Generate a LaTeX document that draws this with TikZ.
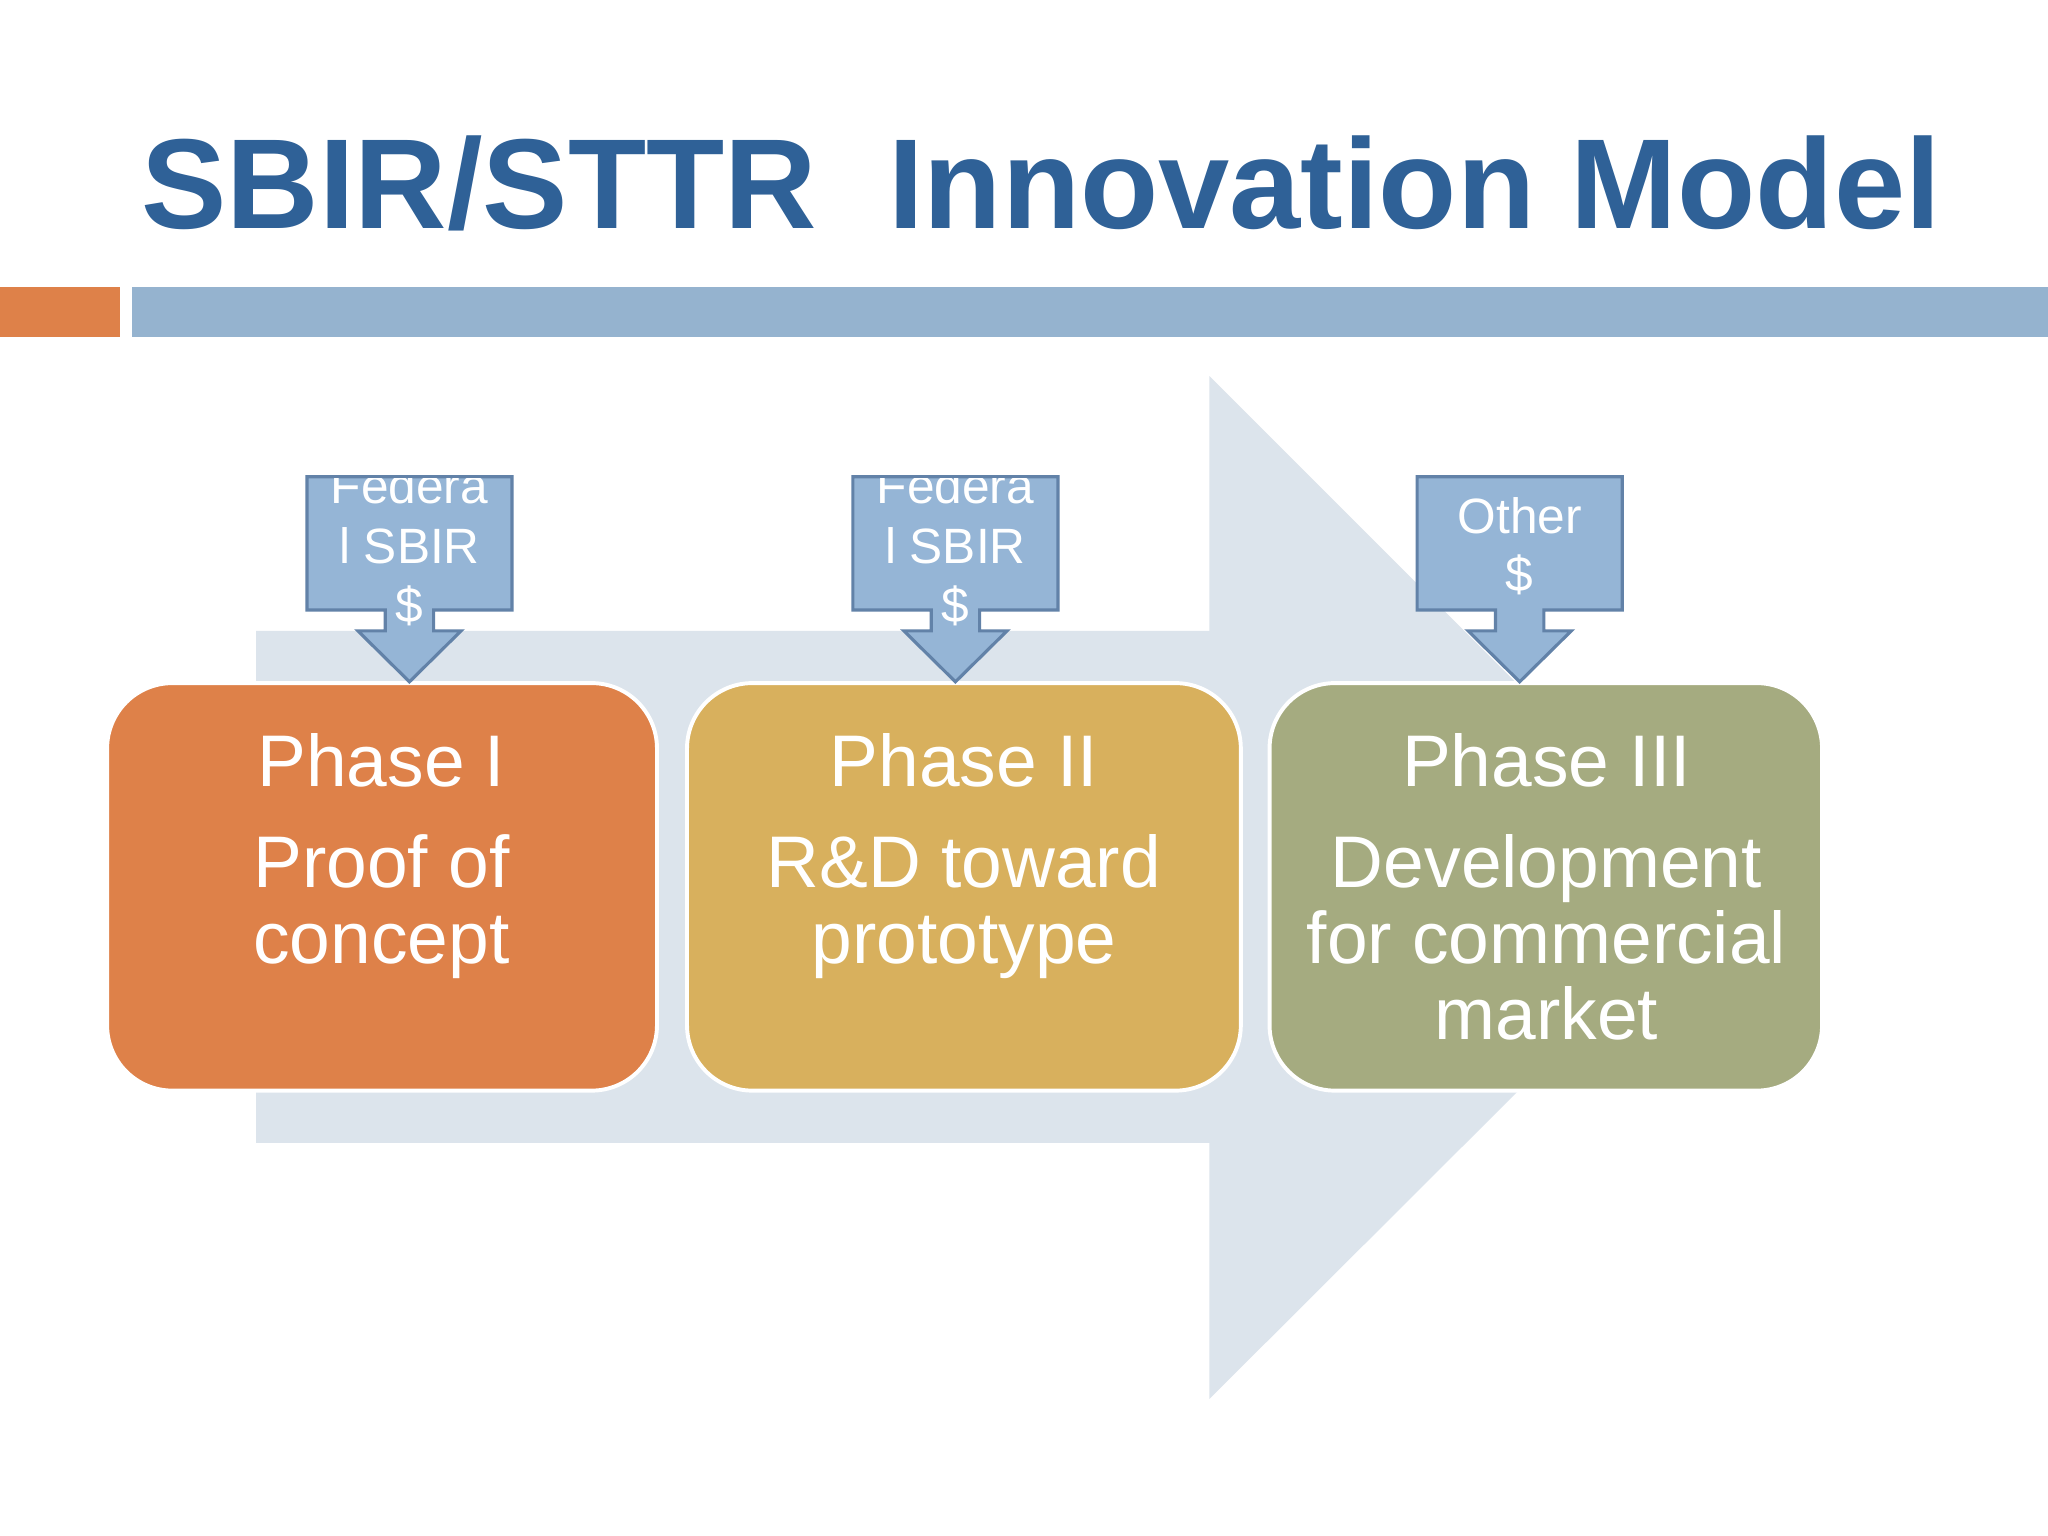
\documentclass[tikz,border=0pt]{standalone}
\usepackage{fontspec}
\setmainfont{Liberation Sans}
\begin{document}
\begin{tikzpicture}[x=0.5pt,y=-0.5pt,
  phase/.style={draw=white,line width=1.5pt,rounded corners=25pt},
  ptxt/.style={text=white,font=\fontsize{28}{29}\selectfont,align=center},
  call/.style={fill=callfill,draw=callline,line width=1.2pt},
  ctxt/.style={text=white,font=\fontsize{19}{23}\selectfont,inner sep=0pt}]
\definecolor{titleblue}{HTML}{2F6197}
\definecolor{barblue}{HTML}{95B3CF}
\definecolor{barorange}{HTML}{DE8149}
\definecolor{bigarrow}{HTML}{DCE4EC}
\definecolor{p1}{HTML}{DE8149}
\definecolor{p2}{HTML}{D8B05D}
\definecolor{p3}{HTML}{A5AB80}
\definecolor{callfill}{HTML}{95B5D6}
\definecolor{callline}{HTML}{6282A8}
\fill[white] (0,0) rectangle (1568,1176);
\useasboundingbox (0,0) rectangle (1568,1176);
\node[anchor=base west,inner sep=0pt,text=titleblue,font=\fontsize{49}{55}\selectfont\bfseries] (title) at (108,175) {SBIR/STTR\ \ Innovation Model};
\fill[barorange] (0,220) rectangle (92,258);
\fill[barblue] (101,220) rectangle (1568,258);
\fill[bigarrow] (196,483) -- (926,483) -- (926,288) -- (1318,680) -- (926,1071) -- (926,875) -- (196,875) -- cycle;
\draw[phase,fill=p1] (82,523) rectangle (503,835);
\draw[phase,fill=p2] (526,523) rectangle (950,835);
\draw[phase,fill=p3] (972,523) rectangle (1395,835);
\node[ptxt] (t1) at (292,582) {Phase I};
\node[ptxt,anchor=north] (d1) at (292,632) {Proof of\\concept};
\node[ptxt] (t2) at (738,582) {Phase II};
\node[ptxt,anchor=north] (d2) at (738,632) {R\&D toward\\prototype};
\node[ptxt] (t3) at (1184,582) {Phase III};
\node[ptxt,anchor=north] (d3) at (1184,632) {Development\\for commercial\\market};
\foreach \x/\a/\b/\c in {235/Federa/l SBIR/\$,653/Federa/l SBIR/\$}{
  \draw[call] (\x,365) -- (\x+157,365) -- (\x+157,467) -- (\x+97,467) -- (\x+97,483) -- (\x+118,483) -- (\x+78.5,522) -- (\x+39,483) -- (\x+60,483) -- (\x+60,467) -- (\x,467) -- cycle;
  \begin{scope}
    \clip (\x,366) rectangle (\x+157,530);
    \node[ctxt] at (\x+78.5,372) {\a};
  \end{scope}
  \node[ctxt] at (\x+78.5,418) {\b};
  \node[ctxt] at (\x+78.5,464) {\c};
}
\draw[call] (1085,365) -- (1242,365) -- (1242,467) -- (1182,467) -- (1182,483) -- (1203,483) -- (1163.5,522) -- (1124,483) -- (1145,483) -- (1145,467) -- (1085,467) -- cycle;
\node[ctxt] (o1) at (1163.5,395) {Other};
\node[ctxt] (o2) at (1163.5,440) {\$};
\end{tikzpicture}
\end{document}
